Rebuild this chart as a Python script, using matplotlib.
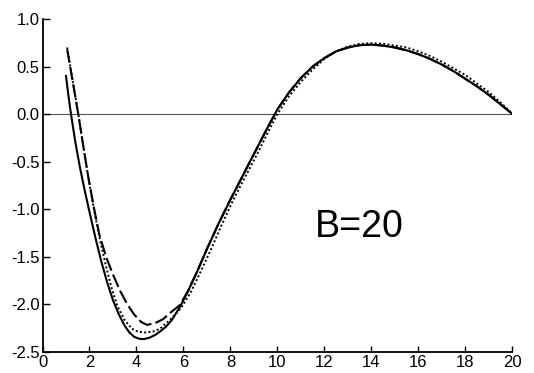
import matplotlib
matplotlib.use("Agg")
import matplotlib.pyplot as plt

# curves (three line styles)
solid_x = [1.0, 1.1, 1.2, 1.4, 1.6, 1.8, 2.0, 2.25, 2.5, 2.75, 3.0, 3.25, 3.5, 3.7, 3.9,
           4.1, 4.3, 4.55, 4.8, 5.0, 5.25, 5.5, 5.85, 6.2, 6.56, 7.0, 7.5, 8.0, 8.5, 9.0,
           9.5, 10.0, 10.5, 11.0, 11.5, 12.0, 12.5, 13.0, 13.5, 14.0, 14.5, 15.0, 15.5,
           16.0, 16.5, 17.0, 17.5, 18.0, 18.5, 19.0, 19.5, 20.0]
solid_y = [0.40, 0.20, 0.02, -0.30, -0.57, -0.81, -1.03, -1.30, -1.55, -1.77, -1.96, -2.11,
           -2.23, -2.30, -2.345, -2.365, -2.37, -2.355, -2.325, -2.29, -2.24, -2.17, -2.03,
           -1.86, -1.67, -1.42, -1.15, -0.90, -0.66, -0.42, -0.18, 0.05, 0.23, 0.38, 0.50,
           0.59, 0.66, 0.70, 0.725, 0.73, 0.72, 0.70, 0.67, 0.63, 0.58, 0.52, 0.45, 0.37,
           0.29, 0.20, 0.10, 0.0]

dash_x = [1.05, 1.3, 1.52, 1.75, 1.95, 2.2, 2.42, 2.7, 3.0, 3.3, 3.6, 3.9, 4.2, 4.45, 4.8,
          5.13, 5.45, 5.85, 6.2, 6.56, 7.0, 7.5, 8.0, 8.5, 9.0, 9.5, 10.0, 10.5, 11.0, 11.5,
          12.0, 12.5, 13.0, 13.5, 14.0, 14.5, 15.0, 15.5, 16.0, 16.5, 17.0, 17.5, 18.0,
          18.5, 19.0, 19.5, 20.0]
dash_y = [0.68, 0.32, 0.0, -0.36, -0.665, -1.00, -1.27, -1.50, -1.69, -1.86, -2.00, -2.11,
          -2.19, -2.22, -2.20, -2.16, -2.09, -2.01, -1.86, -1.67, -1.42, -1.15, -0.90, -0.66,
          -0.42, -0.18, 0.05, 0.23, 0.38, 0.50, 0.59, 0.66, 0.70, 0.725, 0.73, 0.72, 0.70,
          0.67, 0.63, 0.58, 0.52, 0.45, 0.37, 0.29, 0.20, 0.10, 0.0]

dot_x = [1.05, 1.3, 1.52, 1.75, 1.95, 2.2, 2.45, 2.7, 2.95, 3.2, 3.5, 3.8, 4.05, 4.35, 4.7,
         5.0, 5.5, 5.9, 6.3, 6.73, 7.2, 7.62, 8.05, 8.48, 9.14, 9.6, 10.0, 10.5, 11.0, 11.5,
         12.0, 12.5, 13.0, 13.5, 14.0, 14.5, 15.0, 15.5, 16.0, 16.5, 17.0, 17.5, 18.0,
         18.5, 19.0, 19.5, 20.0]
dot_y = [0.70, 0.33, 0.01, -0.36, -0.67, -1.02, -1.33, -1.60, -1.84, -2.03, -2.17, -2.26,
         -2.29, -2.30, -2.29, -2.26, -2.15, -2.04, -1.88, -1.66, -1.41, -1.17, -0.94, -0.73,
         -0.42, -0.19, 0.0, 0.19, 0.34, 0.47, 0.58, 0.66, 0.71, 0.74, 0.745, 0.74, 0.72,
         0.70, 0.66, 0.61, 0.55, 0.48, 0.41, 0.32, 0.23, 0.12, 0.0]

x_ticks = [0, 2, 4, 6, 8, 10, 12, 14, 16, 18, 20]
y_ticks = [1.0, 0.5, 0.0, -0.5, -1.0, -1.5, -2.0, -2.5]
y_labels = ["1.0", "0.5", "0.0", "-0.5", "-1.0", "-1.5", "-2.0", "-2.5"]

plt.rcParams["font.family"] = ["Liberation Sans", "DejaVu Sans"]

fig = plt.figure(figsize=(5.34, 3.73), dpi=100)
ax = fig.add_axes([0.0796, 0.0576, 0.880, 0.8914])

ax.axhline(0.0, color="#555555", lw=0.8, zorder=1)
ax.plot(solid_x, solid_y, color="black", lw=1.5, solid_joinstyle="round", zorder=3)
ax.plot(dash_x, dash_y, color="black", lw=1.5, dashes=(6.5, 2), zorder=3)
ax.plot(dot_x, dot_y, color="black", lw=1.4, linestyle=(0, (1, 1.2)), zorder=3)

ax.text(13.5, -1.19, "B=20", fontsize=27, ha="center", va="center")

ax.set_xlim(0, 20)
ax.set_ylim(-2.5, 1.0)
ax.set_xticks(x_ticks)
ax.set_yticks(y_ticks)
ax.set_yticklabels(y_labels)

for side in ["top", "right"]:
    ax.spines[side].set_visible(False)
for side in ["left", "bottom"]:
    ax.spines[side].set_linewidth(1.3)

ax.tick_params(axis="y", direction="in", length=5, width=1, pad=2, labelsize=12)
ax.tick_params(axis="x", direction="in", length=4, width=1, pad=2.5, labelsize=12)

fig.savefig("out.png", dpi=100)
